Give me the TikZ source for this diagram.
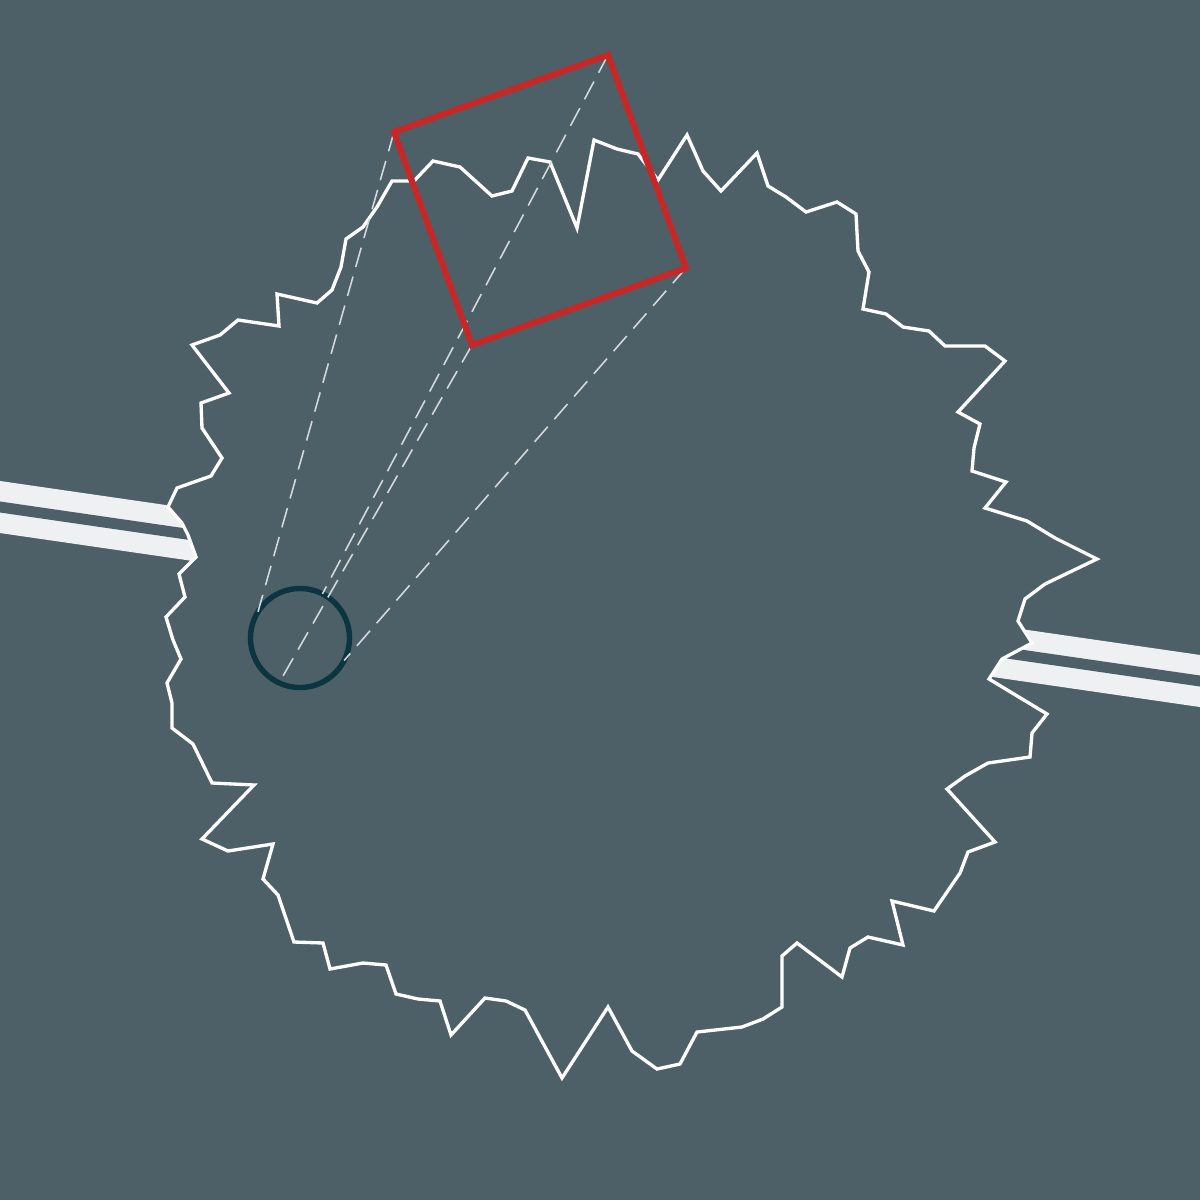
\documentclass[tikz,border=0pt]{standalone}
\definecolor{bgc}{HTML}{4E6067}
\definecolor{pipec}{HTML}{EEF0F2}
\definecolor{redc}{HTML}{C62828}
\definecolor{camc}{HTML}{0B3540}
\definecolor{dashc}{HTML}{D3D8DA}
\tikzset{
  pipeband/.style={draw=pipec, line width=14.65pt},
  pipegap/.style={draw=bgc, line width=3.1pt},
  blob/.style={fill=bgc, draw=white, line width=0.95pt, line join=miter},
  camnode/.style={circle, draw=camc, line width=1.55pt, minimum size=0.99cm, inner sep=0pt, outer sep=0pt},
  rayline/.style={draw=dashc, line width=0.45pt, dash pattern=on 5.7pt off 2.85pt},
  viewsq/.style={draw=redc, line width=1.75pt, line join=miter}
}
\begin{document}
\begin{tikzpicture}[x=0.01cm,y=-0.01cm]
\useasboundingbox (0,0) rectangle (1200,1200);
\fill[bgc] (0,0) rectangle (1200,1200);
\begin{scope}
\clip (0,0) rectangle (1200,1200);
% pipe
\coordinate (pipeL) at (-50,499.75);
\coordinate (pipeR) at (1250,688.25);
\draw[pipeband] (pipeL) -- (pipeR);
\draw[pipegap] (pipeL) -- (pipeR);
% jagged outline
\draw[blob] (392,181) -- (414,181) -- (433,161) -- (460,167) -- (492,196) -- (512,191) -- (528,158) -- (550,162) -- (577,228) -- (594,140) -- (617,149) -- (638,154) -- (658,180) -- (687,135) -- (703,171) -- (721,191) -- (757,153) -- (768,186) -- (786,197) -- (806,212) -- (837,202) -- (856,214) -- (858,251) -- (869,272) -- (863,309) -- (886,314) -- (903,327) -- (929,331) -- (945,346) -- (985,346) -- (1005,361) -- (958,412) -- (980,424) -- (974,448) -- (972,471) -- (1006,482) -- (985,508) -- (1027,521) -- (1055,538) -- (1097,559) -- (1045,584) -- (1025,599) -- (1018,621) -- (1032,643) -- (1002,659) -- (989,679) -- (1047,714) -- (1032,733) -- (1030,757) -- (988,763) -- (965,776) -- (947,789) -- (995,842) -- (968,852) -- (960,873) -- (934,911) -- (892,901) -- (903,945) -- (868,937) -- (850,948) -- (842,977) -- (797,943) -- (782,956) -- (782,1007) -- (763,1019) -- (742,1027) -- (697,1032) -- (680,1064) -- (657,1069) -- (632,1051) -- (608,1007) -- (562,1078) -- (525,1010) -- (506,1001) -- (485,998) -- (451,1035) -- (440,1001) -- (418,999) -- (396,994) -- (386,965) -- (363,963) -- (330,969) -- (323,943) -- (294,942) -- (278,895) -- (263,879) -- (273,844) -- (228,851) -- (202,839) -- (254,785) -- (212,783) -- (193,744) -- (172,728) -- (172,703) -- (167,683) -- (181,659) -- (173,640) -- (166,617) -- (185,597) -- (179,574) -- (196,557) -- (188,535) -- (182,523) -- (168,507) -- (177,488) -- (211,476) -- (222,458) -- (202,428) -- (201,403) -- (229,393) -- (192,345) -- (220,335) -- (238,320) -- (279,326) -- (277,294) -- (317,303) -- (332,290) -- (341,267) -- (346,239) -- (363,227) -- (377,207) -- cycle;
% camera circle
\node[camnode] (cam) at (300,638) {};
% square corners
\coordinate (sqTL) at (394,132);
\coordinate (sqTR) at (608,55);
\coordinate (sqBR) at (686,268);
\coordinate (sqBL) at (472,345);
% rays
\draw[rayline] (sqTL) -- (cam.148.8);
\draw[rayline] (sqTR) -- (cam.63.4);
\draw[rayline] (sqBL) -- (cam.245.5);
\draw[rayline] (sqBR) -- (cam.333.4);
% view square
\draw[viewsq] (sqTL) -- (sqTR) -- (sqBR) -- (sqBL) -- cycle;
\end{scope}
\end{tikzpicture}
\end{document}
